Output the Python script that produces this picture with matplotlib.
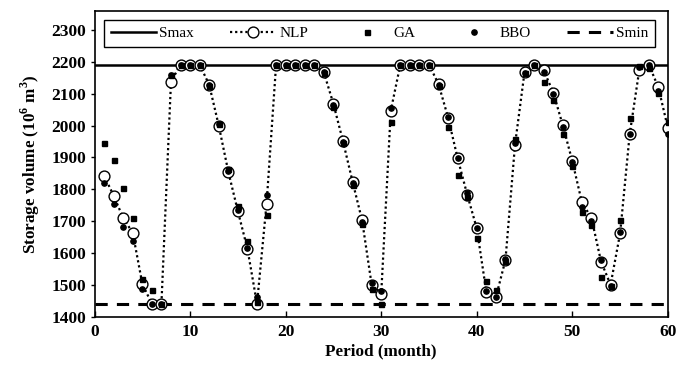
import numpy as np
import matplotlib
matplotlib.use('Agg')
import matplotlib.pyplot as plt

plt.rcParams['font.family'] = ['Liberation Serif', 'DejaVu Serif']
plt.rcParams['mathtext.fontset'] = 'custom'
plt.rcParams['mathtext.rm'] = 'Liberation Serif'
plt.rcParams['mathtext.bf'] = 'Liberation Serif:bold'

# storage limits (10^6 m3)
smax = 2192
smin = 1440

months = np.arange(1, 61)

nlp = [1843, 1780, 1710, 1663, 1503, 1440, 1440, 2138, 2192, 2192,
       2192, 2128, 2000, 1855, 1731, 1613, 1440, 1754, 2192, 2192,
       2192, 2192, 2192, 2167, 2068, 1951, 1824, 1702, 1500, 1472,
       2047, 2192, 2192, 2192, 2192, 2130, 2025, 1897, 1783, 1677,
       1477, 1461, 1578, 1940, 2169, 2192, 2174, 2104, 2001, 1888,
       1759, 1710, 1573, 1500, 1662, 1973, 2174, 2192, 2120, 1992]

ga = [1947, 1893, 1804, 1710, 1519, 1484, 1440, 2159, 2192, 2192,
      2192, 2125, 2005, 1864, 1749, 1637, 1445, 1720, 2192, 2192,
      2192, 2192, 2192, 2165, 2060, 1945, 1814, 1691, 1487, 1440,
      2013, 2192, 2192, 2192, 2192, 2125, 1997, 1846, 1775, 1647,
      1513, 1484, 1575, 1958, 2165, 2190, 2137, 2080, 1973, 1874,
      1728, 1689, 1526, 1497, 1702, 2025, 2187, 2182, 2104, 2010]

bbo = [1820, 1754, 1683, 1639, 1487, 1440, 1440, 2159, 2192, 2192,
       2192, 2128, 2005, 1858, 1735, 1615, 1461, 1783, 2192, 2192,
       2192, 2192, 2192, 2167, 2066, 1948, 1820, 1698, 1505, 1480,
       2057, 2192, 2192, 2192, 2192, 2128, 2028, 1899, 1787, 1679,
       1479, 1463, 1580, 1945, 2165, 2190, 2170, 2100, 1995, 1885,
       1745, 1700, 1578, 1497, 1665, 1975, 2185, 2190, 2110, 1973]

fig = plt.figure(figsize=(6.9, 3.69), dpi=100)
ax = fig.add_axes([0.137, 0.142, 0.831, 0.828])

ax.axhline(smax, color='black', lw=1.8, label='Smax', zorder=2)
ax.plot(months, nlp, color='black', lw=1.6, linestyle=(0, (1, 1.3)),
        marker='o', ms=7.8, mfc='white', mec='black', mew=1.0,
        label='NLP', zorder=3)
ax.plot(months, ga, linestyle='none', marker='s', ms=3.6, color='black',
        label='GA', zorder=4)
ax.plot(months, bbo, linestyle='none', marker='o', ms=3.8, color='black',
        label='BBO', zorder=5)
ax.axhline(smin, color='black', lw=2.2, linestyle=(0, (4, 3)),
           label='Smin', zorder=2)

ax.set_xlim(0, 60)
ax.set_ylim(1400, 2360)
ax.set_xticks([0, 10, 20, 30, 40, 50, 60])
ax.set_yticks(np.arange(1400, 2301, 100))
ax.tick_params(axis='x', direction='in', length=4, width=1, pad=5, labelsize=12.5)
ax.tick_params(axis='y', direction='out', length=3, width=1, pad=3, labelsize=12.5)
for lab in ax.get_xticklabels() + ax.get_yticklabels():
    lab.set_fontweight('bold')
for s in ax.spines.values():
    s.set_linewidth(1.2)

ax.set_xlabel('Period (month)', fontsize=12.3, fontweight='bold', labelpad=3)
ax.set_ylabel(r'Storage volume (10$^{\mathbf{6}}$ m$^{\mathbf{3}}$)',
              fontsize=12.3, fontweight='bold', labelpad=7)

leg = ax.legend(loc='lower left', bbox_to_anchor=(0.016, 0.882, 0.962, 0.092),
                mode='expand', ncol=5, borderaxespad=0, fancybox=False,
                edgecolor='black', framealpha=1, fontsize=11, handlelength=3.0,
                handletextpad=0.2, borderpad=0.45)
leg.get_frame().set_linewidth(1.0)

plt.savefig('out.png', dpi=100)
